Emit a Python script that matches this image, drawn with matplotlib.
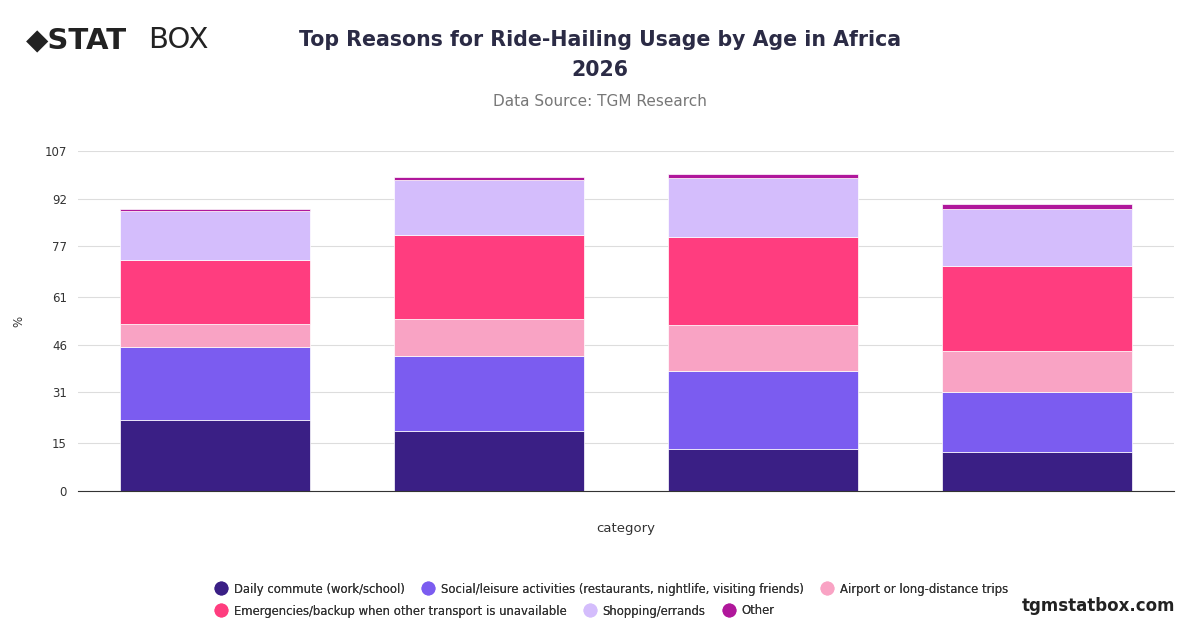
import matplotlib
matplotlib.use("Agg")
import matplotlib.pyplot as plt
import numpy as np
from matplotlib.lines import Line2D

categories = ["", "", "", ""]
series_names = ["Daily commute (work/school)",
                "Social/leisure activities (restaurants, nightlife, visiting friends)",
                "Airport or long-distance trips",
                "Emergencies/backup when other transport is unavailable",
                "Shopping/errands", "Other"]
commute = [22.3, 18.9, 13.2, 12.3]
social = [23.0, 23.6, 24.6, 18.9]
airport = [7.2, 11.6, 14.4, 12.9]
emergencies = [20.2, 26.5, 27.7, 26.7]
shopping = [15.4, 17.3, 18.6, 17.9]
other = [0.6, 0.9, 1.2, 1.6]
yticks = [0, 15, 31, 46, 61, 77, 92, 107]
colors = ["#3a1f85", "#7b5cf0", "#f9a3c4", "#ff3d7f", "#d4bdfc", "#b0179b"]

fig = plt.figure(figsize=(12, 6.28), dpi=100)
ax = fig.add_axes([78/1200, 1-491/628, 1096/1200, 340/628])
x = np.arange(len(categories))
bottom = np.zeros(len(categories))
for vals, c, n in zip([commute, social, airport, emergencies, shopping, other], colors, series_names):
    ax.bar(x, vals, bottom=bottom, width=0.69, color=c, label=n, edgecolor="white", linewidth=0.5)
    bottom += np.array(vals)
ax.set_xlim(-0.5, len(categories)-0.5)
ax.set_ylim(0, 107)
ax.set_yticks(yticks)
ax.set_xticks([])
ax.tick_params(axis="y", length=0, labelsize=8.5, colors="#333333", pad=8)
ax.grid(axis="y", color="#dddddd", linewidth=0.8)
ax.set_axisbelow(True)
for s in ["top", "right", "left"]:
    ax.spines[s].set_visible(False)
ax.spines["bottom"].set_color("#333333")
ax.set_ylabel("%", fontsize=8.5, color="#333333", labelpad=14)
ax.set_xlabel("category", fontsize=9.5, color="#333333", labelpad=22)

fig.text(0.5, 1-40/628, "Top Reasons for Ride-Hailing Usage by Age in Africa", ha="center", va="center",
         fontsize=14.8, fontweight="bold", color="#2b2b45")
fig.text(0.5, 1-70/628, "2026", ha="center", va="center", fontsize=14.8, fontweight="bold", color="#2b2b45")
fig.text(0.5, 1-101/628, "Data Source: TGM Research", ha="center", va="center", fontsize=11, color="#777777")
fig.text(26/1200, 1-40/628, "◆STAT", ha="left", va="center", fontsize=21, fontweight="bold", color="#222222")
fig.text(148/1200, 1-40/628, "BOX", ha="left", va="center", fontsize=21, color="#222222")
fig.text(1175/1200, 1-606/628, "tgmstatbox.com", ha="right", va="center", fontsize=12, fontweight="bold", color="#222222")

for row, y in [(0, 589), (1, 611)]:
    idx = range(row*3, row*3+3)
    hh = [Line2D([], [], marker="o", linestyle="", markersize=9, color=colors[i]) for i in idx]
    leg = fig.legend(hh, [series_names[i] for i in idx], loc="center left", bbox_to_anchor=(208/1200, 1-y/628),
                     ncol=3, frameon=False, fontsize=8.4, handletextpad=0.5, columnspacing=1.4,
                     labelcolor="#333333", borderpad=0, handlelength=1.2)
    fig.add_artist(leg)
fig.savefig("out.png", dpi=100)
